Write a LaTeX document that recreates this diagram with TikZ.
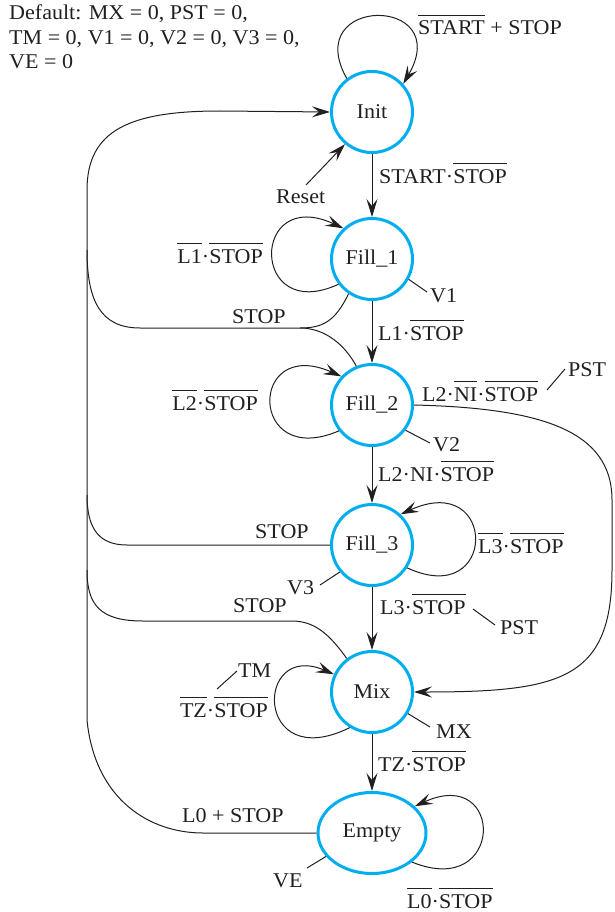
\documentclass[tikz,border=0pt]{standalone}
\usepackage{fontspec}
\setmainfont{Liberation Serif}[FakeStretch=1.05]
\usetikzlibrary{arrows.meta,shapes.geometric}
\definecolor{stcyan}{RGB}{0,174,239}
\definecolor{ink}{RGB}{35,31,32}
\newcommand\ov[1]{\leavevmode\vbox{\hrule height 1.1pt\kern 5pt\hbox{\rule{0pt}{0.68em}#1}}}
\begin{document}
\begin{tikzpicture}[x=1pt,y=-1pt,
  font=\fontsize{21}{24.5}\selectfont,
  state/.style={circle,draw=stcyan,line width=3pt,minimum size=81pt,inner sep=0pt,text=ink},
  estate/.style={ellipse,draw=stcyan,line width=3pt,minimum width=108pt,minimum height=81pt,inner sep=0pt,text=ink},
  conn/.style={draw=ink,line width=1pt},
  arr/.style={conn,-{Stealth[length=18pt,width=11pt,inset=7pt]}},
  tick/.style={draw=ink,line width=1pt},
  lbl/.style={inner sep=0pt,text=ink}]
\useasboundingbox (0,0) rectangle (614,912);

% states
\node[state] (init) at (372,112) {Init};
\node[state] (fill1) at (372,259) {Fill\_1};
\node[state] (fill2) at (372,405) {Fill\_2};
\node[state] (fill3) at (372,545) {Fill\_3};
\node[state] (mix) at (372,692) {Mix};
\node[estate] (empty) at (372,833) {Empty};

% defaults
\node[lbl,anchor=north west,align=left] (defaults) at (9,5) {Default: MX = 0, PST = 0,\\TM = 0, V1 = 0, V2 = 0, V3 = 0,\\VE = 0};

% main vertical transitions
\draw[arr] (init) -- (fill1);
\draw[arr] (fill1) -- (fill2);
\draw[arr] (fill2) -- (fill3);
\draw[arr] (fill3) -- (mix);
\draw[arr] (mix) -- (empty);

% self loops
\draw[arr] (init.127) .. controls (300,-5) and (455,-5) .. (init.42);
\draw[arr] (fill1.217) .. controls (250,325) and (250,185) .. (fill1.133);
\draw[arr] (fill2.218) .. controls (248,470) and (248,335) .. (fill2.137);
\draw[arr] (fill3.-33) .. controls (498,610) and (498,470) .. (fill3.47);
\draw[arr] (mix.238) .. controls (254,775) and (254,640) .. (mix.155);
\draw[arr] (empty.-36) .. controls (505,900) and (505,765) .. (empty.32);

% Fill_2 -> Mix
\draw[arr] (fill2.east) .. controls (540,408) and (612,430) .. (612,500) -- (612,570) .. controls (612,680) and (560,692) .. (mix.east);

% return bus to Init
\draw[arr] (empty.west) -- (203,833) .. controls (150,833) and (95,800) .. (87,720) -- (87,190) .. controls (87,130) and (130,111) .. (220,111) -- (init.west);
\coordinate (j1) at (300,328);
\draw[conn] (fill1.236) .. controls (335,322) and (322,328) .. (j1) -- (140,328) .. controls (100,328) and (87,300) .. (87,250);
\draw[conn] (fill2.112) .. controls (345,345) and (325,328) .. (j1);
\draw[conn] (fill3.west) -- (127,545) .. controls (100,545) and (87,530) .. (87,495);
\draw[conn] (mix.127) .. controls (330,635) and (315,621) .. (292,621) -- (143,621) .. controls (100,621) and (87,605) .. (87,570);

% reset
\coordinate (rst) at (306,185);
\draw[arr] (rst) -- (init.230);

% output ticks
\coordinate (v1t) at (427,292);
\coordinate (v2t) at (430,443);
\coordinate (v3t) at (320,585);
\coordinate (mxt) at (430,727);
\coordinate (vet) at (307,868);
\draw[tick] (fill1.-29) -- (v1t);
\draw[tick] (fill2.-37) -- (v2t);
\draw[tick] (fill3.220) -- (v3t);
\draw[tick] (mix.-31) -- (mxt);
\draw[tick] (empty.207) -- (vet);
\coordinate (p1a) at (547,390); \coordinate (p1b) at (565,369);
\coordinate (p2a) at (473,609); \coordinate (p2b) at (495,625);
\coordinate (tma) at (217,689); \coordinate (tmb) at (237,671);
\draw[tick] (p1a) -- (p1b);
\draw[tick] (p2a) -- (p2b);
\draw[tick] (tma) -- (tmb);

% labels
\node[lbl,anchor=base west] (lstart) at (418,35) {\ov{START} + STOP};
\node[lbl,anchor=base west] (l01) at (379,183) {START·\ov{STOP}};
\node[lbl,anchor=base west] (reset) at (276,203) {Reset};
\node[lbl,anchor=base east] (l11) at (263,263) {\ov{L1}·\ov{STOP}};
\node[lbl,anchor=base west] (v1) at (430,302) {V1};
\node[lbl,anchor=base west] (stop1) at (232,323) {STOP};
\node[lbl,anchor=base west] (l12) at (378,340) {L1·\ov{STOP}};
\node[lbl,anchor=base east] (l22) at (258,410) {\ov{L2}·\ov{STOP}};
\node[lbl,anchor=base west] (l2mix) at (422,401) {L2·\ov{NI}·\ov{STOP}};
\node[lbl,anchor=base west] (pst1) at (568,376) {PST};
\node[lbl,anchor=base west] (v2) at (433,451) {V2};
\node[lbl,anchor=base west] (l23) at (378,481) {L2·NI·\ov{STOP}};
\node[lbl,anchor=base west] (stop3) at (255,538) {STOP};
\node[lbl,anchor=base west] (l33) at (478,553) {\ov{L3}·\ov{STOP}};
\node[lbl,anchor=base west] (v3) at (287,594) {V3};
\node[lbl,anchor=base west] (stopm) at (233,612) {STOP};
\node[lbl,anchor=base west] (l3m) at (380,614) {L3·\ov{STOP}};
\node[lbl,anchor=base west] (pst2) at (500,634) {PST};
\node[lbl,anchor=base west] (tm) at (238,677) {TM};
\node[lbl,anchor=base east] (tzz) at (268,717) {\ov{TZ}·\ov{STOP}};
\node[lbl,anchor=base west] (mx) at (436,738) {MX};
\node[lbl,anchor=base west] (tze) at (378,771) {TZ·\ov{STOP}};
\node[lbl,anchor=base west] (l0stop) at (182,822) {L0 + STOP};
\node[lbl,anchor=base west] (ve) at (273,887) {VE};
\node[lbl,anchor=base west] (l0e) at (407,908) {\ov{L0}·\ov{STOP}};
\end{tikzpicture}
\end{document}
